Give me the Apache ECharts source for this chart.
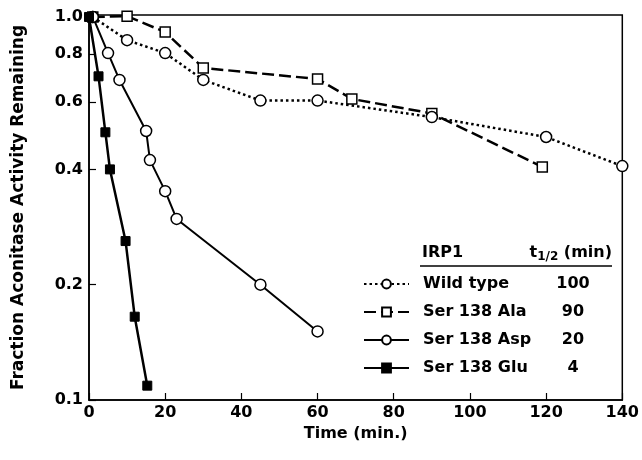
<!DOCTYPE html>
<html>
<head>
<meta charset="utf-8">
<script src="https://cdn.jsdelivr.net/npm/echarts@6/dist/echarts.min.js"></script>
<style>html,body{margin:0;padding:0;background:#fff;}#c{width:642px;height:460px;}</style>
</head>
<body>
<div id="c"></div>
<script>
// ---- data ----
const seriesNames = ['Wild type', 'Ser 138 Ala', 'Ser 138 Asp', 'Ser 138 Glu'];
const halfLives = ['100', '90', '20', '4'];
const wtX = [1, 10, 20, 30, 45, 60, 90, 120, 140];
const wtY = [1.0, 0.87, 0.805, 0.685, 0.605, 0.605, 0.548, 0.486, 0.408];
const alaX = [1, 10, 20, 30, 60, 69, 90, 119];
const alaY = [1.0, 1.005, 0.913, 0.736, 0.689, 0.611, 0.56, 0.406];
const aspX = [1, 5, 8, 15, 16, 20, 23, 45, 60];
const aspY = [1.0, 0.805, 0.685, 0.504, 0.423, 0.351, 0.297, 0.2, 0.151];
const gluX = [0, 2.5, 4.3, 5.5, 9.6, 12, 15.3];
const gluY = [1.0, 0.70, 0.50, 0.40, 0.26, 0.165, 0.109];
const yTickValues = [0.1, 0.2, 0.4, 0.6, 0.8, 1.0];
const yTickLabels = ['0.1', '0.2', '0.4', '0.6', '0.8', '1.0'];
const xMin = 0, xMax = 140, xStep = 20;
const yMin = 0.1, yMax = 1.012;

const FONT = 'DejaVu Sans';
const pairs = (xs, ys) => xs.map((x, i) => [x, ys[i]]);

const chart = echarts.init(document.getElementById('c'), null, {renderer: 'canvas'});
const txt = {color: '#000', fontFamily: FONT, fontWeight: 'bold', fontSize: 16};

const option = {
  backgroundColor: '#fff',
  animation: false,
  grid: {left: 89, right: 15, top: 15, bottom: 60, show: true, borderColor: '#000', borderWidth: 1.5, backgroundColor: 'transparent'},
  xAxis: {
    type: 'value', min: xMin, max: xMax, interval: xStep,
    name: 'Time (min.)', nameLocation: 'middle', nameGap: 23,
    nameTextStyle: Object.assign({}, txt),
    axisLine: {show: true, onZero: false, lineStyle: {color: '#000', width: 1.5}},
    axisTick: {show: true, inside: true, length: 7, lineStyle: {color: '#000', width: 1.2}},
    axisLabel: Object.assign({margin: 5}, txt),
    splitLine: {show: false}
  },
  yAxis: [
    {
      type: 'log', logBase: 10, min: yMin, max: yMax, position: 'right', show: false,
      axisLine: {onZero: false},
      splitLine: {show: false}
    },
    {
      type: 'value', position: 'left',
      min: Math.log10(yMin), max: Math.log10(yMax),
      name: 'Fraction Aconitase Activity Remaining', nameLocation: 'middle', nameGap: 62,
      nameTextStyle: Object.assign({}, txt, {fontSize: 17}),
      axisLine: {show: true, onZero: false, lineStyle: {color: '#000', width: 1.5}},
      axisTick: {show: true, inside: true, length: 7, lineStyle: {color: '#000', width: 1.2},
                 customValues: yTickValues.map(v => Math.log10(v))},
      axisLabel: Object.assign({margin: 6,
        customValues: yTickValues.map(v => Math.log10(v)),
        formatter: function (v) {
          let best = 0, bd = Infinity;
          yTickValues.forEach((t, i) => { const d = Math.abs(Math.log10(t) - v); if (d < bd) { bd = d; best = i; } });
          return yTickLabels[best];
        }}, txt),
      splitLine: {show: false}
    }
  ],
  legend: {
    orient: 'vertical', left: 363, top: 274, padding: 0,
    itemWidth: 45, itemHeight: 11, itemGap: 8,
    data: seriesNames,
    formatter: function (name) {
      const i = seriesNames.indexOf(name);
      return '{n|' + name + '}{v|' + halfLives[i] + '}';
    },
    textStyle: {
      padding: [0, 0, 0, 9],
      rich: {
        n: Object.assign({}, txt, {width: 130, height: 20, lineHeight: 20}),
        v: Object.assign({}, txt, {width: 40, height: 20, align: 'center', lineHeight: 20})
      }
    }
  },
  graphic: [
    {type: 'text', left: 422, top: 245, style: {text: 'IRP1', fill: '#000', font: 'bold 16px "DejaVu Sans"'}},
    {type: 'text', right: 30, top: 243, style: {
      text: '{a|t}{b|1/2}{a| (min)}', fill: '#000',
      rich: {
        a: {fontFamily: FONT, fontWeight: 'bold', fontSize: 16, fill: '#000', lineHeight: 20},
        b: {fontFamily: FONT, fontWeight: 'bold', fontSize: 12, fill: '#000', lineHeight: 20, padding: [8, 0, 0, 0]}
      }
    }},
    {type: 'line', shape: {x1: 420, y1: 266, x2: 612, y2: 266}, style: {stroke: '#000', lineWidth: 1.5}}
  ],
  series: [
    {
      name: seriesNames[0], type: 'line', yAxisIndex: 0, data: pairs(wtX, wtY),
      symbol: 'circle', symbolSize: 11,
      itemStyle: {color: '#fff', borderColor: '#000', borderWidth: 1.5},
      lineStyle: {color: '#000', width: 2.5, type: [2.5, 3]}, z: 3
    },
    {
      name: seriesNames[1], type: 'line', yAxisIndex: 0, data: pairs(alaX, alaY),
      symbol: 'rect', symbolSize: 10,
      itemStyle: {color: '#fff', borderColor: '#000', borderWidth: 1.5},
      lineStyle: {color: '#000', width: 2.5, type: [12, 5]}, z: 2
    },
    {
      name: seriesNames[2], type: 'line', yAxisIndex: 0, data: pairs(aspX, aspY),
      symbol: 'circle', symbolSize: 11,
      itemStyle: {color: '#fff', borderColor: '#000', borderWidth: 1.5},
      lineStyle: {color: '#000', width: 2}, z: 4
    },
    {
      name: seriesNames[3], type: 'line', yAxisIndex: 0, data: pairs(gluX, gluY),
      symbol: 'rect', symbolSize: 9,
      itemStyle: {color: '#000', borderColor: '#000', borderWidth: 1},
      lineStyle: {color: '#000', width: 2.5}, z: 5
    }
  ]
};
chart.setOption(option);
</script>
</body>
</html>
